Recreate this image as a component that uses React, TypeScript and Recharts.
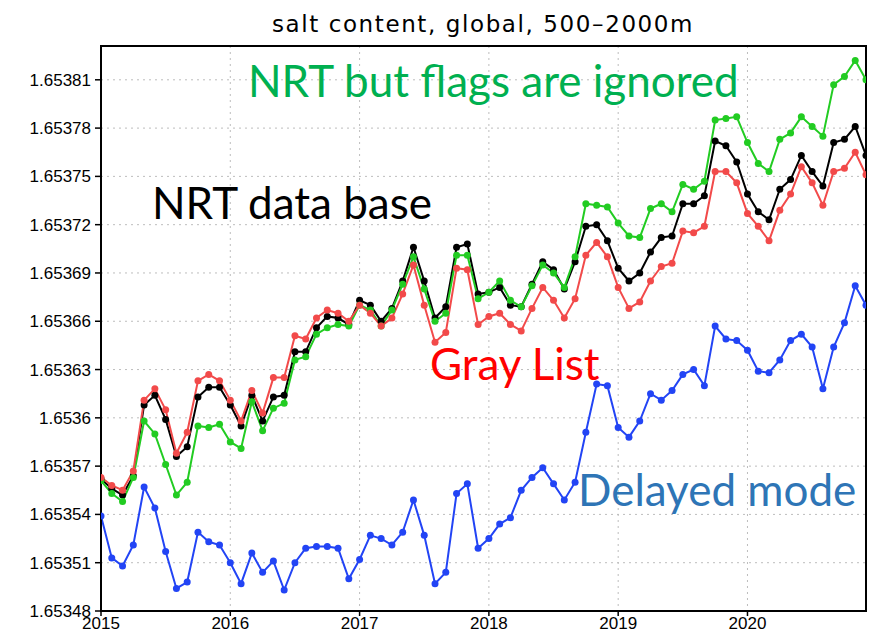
import { LineChart, Line, XAxis, YAxis, CartesianGrid, ReferenceArea } from 'recharts';

// monthly values, Jan 2015 .. Dec 2020
const nrtBase = [
  1.653562, 1.653556, 1.653552, 1.653564, 1.653608, 1.653614, 1.653599, 1.653576, 1.653582, 1.653613, 1.653619, 1.653619,
  1.653608, 1.653595, 1.653614, 1.653598, 1.653613, 1.653614, 1.653641, 1.653641, 1.653656, 1.653663, 1.653662, 1.653658,
  1.653673, 1.65367, 1.65366, 1.653668, 1.653685, 1.653706, 1.653685, 1.653662, 1.653669, 1.653706, 1.653708, 1.653677,
  1.653678, 1.653681, 1.65367, 1.653669, 1.653683, 1.653697, 1.653692, 1.65368, 1.653697, 1.653719, 1.65372, 1.65371,
  1.653693, 1.653685, 1.65369, 1.653703, 1.653712, 1.653713, 1.653733, 1.653733, 1.653738, 1.653772, 1.653769, 1.653759,
  1.653739, 1.653728, 1.653723, 1.653742, 1.653748, 1.653763, 1.653753, 1.653744, 1.653771, 1.653773, 1.653781, 1.653763,
];

const grayList = [
  1.653563, 1.653558, 1.653555, 1.653567, 1.653611, 1.653618, 1.653605, 1.653578, 1.653591, 1.653623, 1.653627, 1.653623,
  1.653611, 1.653598, 1.653617, 1.653603, 1.653625, 1.653625, 1.653651, 1.653649, 1.653662, 1.653667, 1.653665, 1.65366,
  1.65367, 1.653665, 1.653657, 1.653662, 1.653677, 1.653695, 1.65367, 1.653647, 1.653653, 1.653693, 1.653692, 1.653658,
  1.653663, 1.653665, 1.653658, 1.653654, 1.653668, 1.653681, 1.653673, 1.653662, 1.653674, 1.653701, 1.653709, 1.6537,
  1.653681, 1.653668, 1.653672, 1.653685, 1.653694, 1.653696, 1.653716, 1.653715, 1.653719, 1.653753, 1.653753, 1.653746,
  1.653727, 1.653719, 1.65371, 1.653729, 1.653739, 1.653756, 1.653746, 1.653732, 1.653753, 1.653755, 1.653765, 1.653751,
];

const flagsIgnored = [
  1.653561, 1.653553, 1.653548, 1.653563, 1.653598, 1.65359, 1.653571, 1.653552, 1.65356, 1.653595, 1.653594, 1.653596,
  1.653585, 1.653581, 1.65361, 1.653592, 1.653606, 1.653609, 1.653636, 1.653638, 1.653652, 1.653656, 1.653658, 1.653657,
  1.65367, 1.653667, 1.653657, 1.653667, 1.653683, 1.6537, 1.65368, 1.65366, 1.653665, 1.653701, 1.653701, 1.653674,
  1.653678, 1.653685, 1.653673, 1.653669, 1.653682, 1.653695, 1.65369, 1.653681, 1.6537, 1.653733, 1.653732, 1.653731,
  1.653721, 1.653713, 1.653712, 1.65373, 1.653733, 1.653728, 1.653745, 1.653742, 1.653747, 1.653785, 1.653786, 1.653787,
  1.653771, 1.653758, 1.653753, 1.653773, 1.653777, 1.653787, 1.653781, 1.653775, 1.653807, 1.653812, 1.653822, 1.65381,
];

const delayedMode = [
  1.653539, 1.653513, 1.653508, 1.653521, 1.653557, 1.653544, 1.653517, 1.653494, 1.653498, 1.653529, 1.653523, 1.653521,
  1.65351, 1.653497, 1.653516, 1.653504, 1.653511, 1.653493, 1.65351, 1.653519, 1.65352, 1.65352, 1.653519, 1.6535,
  1.653512, 1.653527, 1.653525, 1.653521, 1.653529, 1.653549, 1.653527, 1.653497, 1.653504, 1.653553, 1.653559, 1.653519,
  1.653525, 1.653534, 1.653538, 1.653555, 1.653563, 1.653569, 1.653559, 1.653549, 1.65356, 1.653591, 1.653621, 1.65362,
  1.653594, 1.653588, 1.653598, 1.653615, 1.653611, 1.653617, 1.653627, 1.65363, 1.65362, 1.653657, 1.653649, 1.653648,
  1.653642, 1.653629, 1.653628, 1.653636, 1.653648, 1.653652, 1.653644, 1.653618, 1.653644, 1.653659, 1.653682, 1.65367,
];

const yearTicks = [0, 12, 24, 36, 48, 60];
const yearLabels = ['2015', '2016', '2017', '2018', '2019', '2020'];
const yTicks = [
  1.65348, 1.65351, 1.65354, 1.65357, 1.6536, 1.65363, 1.65366, 1.65369, 1.65372, 1.65375, 1.65378, 1.65381,
];
const yMin = 1.65348;
const yMax = 1.653831;

const data = nrtBase.map((v, i) => ({
  t: i,
  base: v,
  gray: grayList[i],
  flags: flagsIgnored[i],
  delayed: delayedMode[i],
}));

const W = 877;
const H = 636;
const tickFont = { fontFamily: '"Liberation Sans", Arial, sans-serif', fontSize: 17, fill: '#000' };

const series = [
  { key: 'base', color: '#000000' },
  { key: 'flags', color: '#22cc22' },
  { key: 'gray', color: '#f24a4a' },
  { key: 'delayed', color: '#2244f5' },
];

export default function App() {
  return (
    <div style={{ position: 'absolute', left: 0, top: 0, width: W, height: H, background: '#fff' }}>
      <LineChart width={W} height={H} data={data} margin={{ top: 46, right: 11, bottom: 0, left: 0 }}>
        <CartesianGrid stroke="#bdbdbd" strokeDasharray="2 4" />
        <XAxis
          dataKey="t"
          type="number"
          domain={[0, 71]}
          ticks={yearTicks}
          tickFormatter={(v) => yearLabels[yearTicks.indexOf(v)]}
          height={25}
          tickSize={5}
          tickMargin={1}
          tick={tickFont}
          axisLine={{ stroke: '#000', strokeWidth: 2 }}
          tickLine={{ stroke: '#000', strokeWidth: 1.5 }}
          allowDataOverflow
        />
        <YAxis
          type="number"
          domain={[yMin, yMax]}
          ticks={yTicks}
          tickFormatter={(v) => String(v)}
          width={101}
          tickSize={6}
          tickMargin={4}
          tick={tickFont}
          axisLine={{ stroke: '#000', strokeWidth: 2 }}
          tickLine={{ stroke: '#000', strokeWidth: 1.5 }}
          allowDataOverflow
        />
        <ReferenceArea x1={0} x2={71} y1={yMin} y2={yMax} fill="none" stroke="#000" strokeWidth={2} />
        {series.map((s) => (
          <Line
            key={s.key}
            dataKey={s.key}
            type="linear"
            stroke={s.color}
            strokeWidth={2}
            dot={{ r: 3.5, fill: s.color, stroke: 'none' }}
            isAnimationActive={false}
          />
        ))}
      </LineChart>
      <svg width={W} height={H} style={{ position: 'absolute', left: 0, top: 0, pointerEvents: 'none' }}>
        <text x={483} y={32} textAnchor="middle" fontFamily='"DejaVu Sans", sans-serif' fontSize={23} letterSpacing={1.6} fill="#000">
          salt content, global, 500–2000m
        </text>
        <g fontFamily="Lato, sans-serif">
          <text x={248} y={97} fontSize={44} fill="#00b050">NRT but flags are ignored</text>
          <text x={152} y={219} fontSize={44} fill="#000">NRT data base</text>
          <text x={430} y={380} fontSize={44} fill="#ff0000">Gray List</text>
          <text x={578} y={506} fontSize={44} fill="#2e75b6">Delayed mode</text>
        </g>
      </svg>
    </div>
  );
}
